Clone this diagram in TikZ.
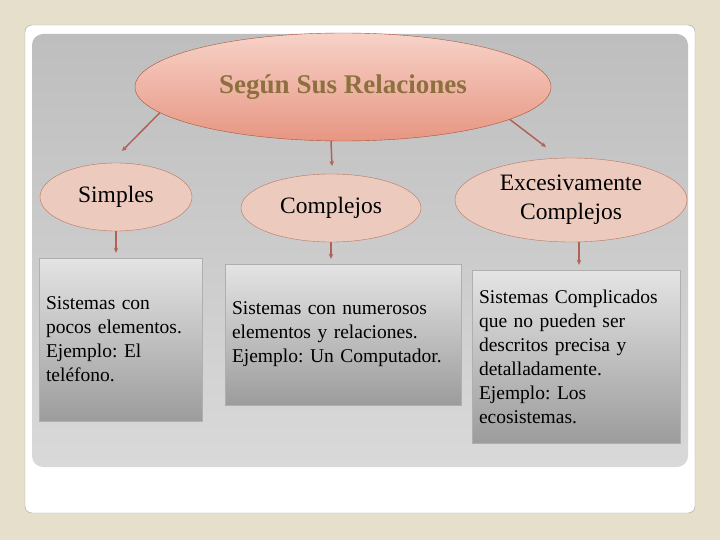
\documentclass[tikz,border=0pt]{standalone}
\usepackage{fontspec}
\setmainfont{Liberation Serif}
\usetikzlibrary{positioning,shapes.geometric,arrows.meta}
\frenchspacing
\definecolor{pageColor}{RGB}{229,223,203}
\definecolor{cardLineColor}{RGB}{165,165,165}
\definecolor{panelTop}{RGB}{190,190,190}
\definecolor{panelBottom}{RGB}{217,217,217}
\definecolor{titleTop}{RGB}{247,210,200}
\definecolor{titleBottom}{RGB}{231,150,130}
\definecolor{ovalLine}{RGB}{168,84,60}
\definecolor{ovalFill}{RGB}{237,202,190}
\definecolor{arrowColor}{RGB}{178,98,84}
\definecolor{titleText}{RGB}{140,112,62}
\definecolor{boxTop}{RGB}{228,228,228}
\definecolor{boxBottom}{RGB}{156,156,156}
\definecolor{boxLine}{RGB}{175,175,175}
\tikzstyle{slide} = [x = 1pt, y = -1pt]
\tikzstyle{titleOval} = [ellipse, draw=ovalLine, top color=titleTop, bottom color=titleBottom, inner sep=0, minimum width=416, minimum height=108, font=\fontsize{27}{30}\selectfont\bfseries, text=titleText]
\tikzstyle{kindOval} = [ellipse, draw=ovalLine!80, fill=ovalFill, inner sep=0, align=center, font=\fontsize{23.5}{29}\selectfont]
\tikzstyle{infoBox} = [rectangle, draw=boxLine, top color=boxTop, bottom color=boxBottom, inner sep=7, align=left, font=\fontsize{19.5}{24}\selectfont]
\tikzstyle{linkArrow} = [draw=arrowColor, line width=1.5pt, -{Stealth[length=5pt, width=4.5pt]}]
\newcommand{\linkArrow}[2]{\draw [linkArrow] (#1) -- (#2);}
\newcommand{\dropArrow}[2]{\draw [linkArrow, shorten >= 5pt] (#1) -- (#1 |- #2.north);}

\begin{document}
\begin{tikzpicture}[slide]
            \fill [pageColor] (0,0) rectangle (720,540);
            \useasboundingbox (0,0) rectangle (720,540);
            \filldraw [draw=cardLineColor, fill=white, rounded corners=7] (25,25) rectangle (695,513);
            \shade [top color=panelTop, bottom color=panelBottom, rounded corners=11] (32,34) rectangle (688,467);

            \node [titleOval] (relaciones) at (343,87) {Según Sus Relaciones};

            \node [kindOval, minimum width=152, minimum height=68] (simples) at (116,197) {Simples};
            \node [kindOval, minimum width=180, minimum height=68] (complejos) at (331,208) {Complejos};
            \node [kindOval, minimum width=232, minimum height=84] (excesivo) at (571,200) {Excesivamente\\Complejos};

            \node [infoBox, minimum width=163, minimum height=163, text width=149] (simplesBox) at (120.5,339.5)
              {Sistemas con\\pocos elementos.\\Ejemplo: El\\teléfono.};
            \node [infoBox, minimum width=236, minimum height=141, text width=222] (complejosBox) at (343,334.5)
              {Sistemas con numerosos\\elementos y relaciones.\\Ejemplo: Un Computador.};
            \node [infoBox, minimum width=208, minimum height=173, text width=194] (excesivoBox) at (576,356.5)
              {Sistemas Complicados\\que no pueden ser\\descritos precisa y\\detalladamente.\\Ejemplo: Los\\ecosistemas.};

            % flechas desde el titulo
            \coordinate (simplesTip) at (122,151);
            \coordinate (complejosTip) at (332,166);
            \coordinate (excesivoTip) at (546,147);
            \linkArrow{relaciones.188}{simplesTip}
            \linkArrow{relaciones.south -| complejos.north}{complejosTip}
            \linkArrow{relaciones.349}{excesivoTip}

            % flechas hacia las cajas
            \path (excesivo.south) ++(8,0) coordinate (excesivoFoot);
            \dropArrow{simples.south}{simplesBox}
            \dropArrow{complejos.south}{complejosBox}
            \dropArrow{excesivoFoot}{excesivoBox}
          \end{tikzpicture}
\end{document}
